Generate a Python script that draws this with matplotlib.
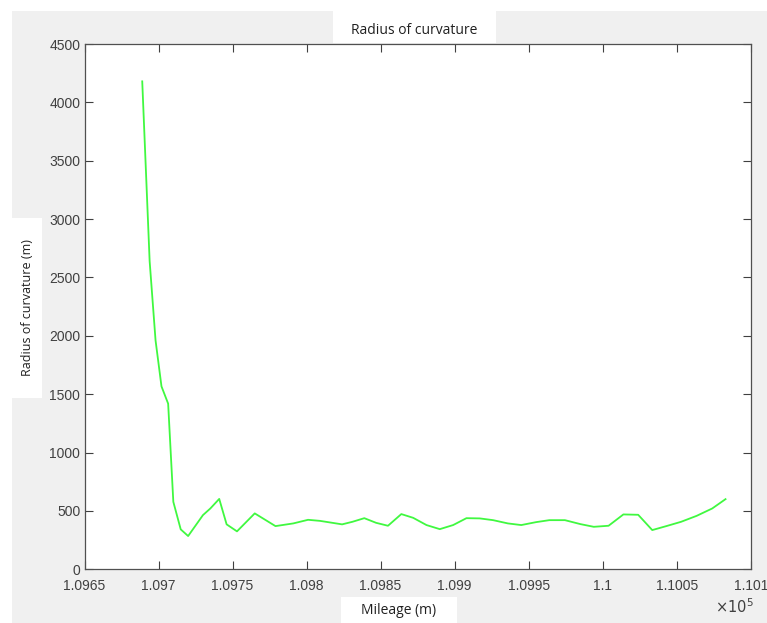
import matplotlib
matplotlib.use("Agg")
import matplotlib.pyplot as plt
from matplotlib.patches import Rectangle

# --- Daten ---
mileage = [109689, 109694, 109698, 109702, 109706.5, 109710, 109715, 109720,
           109730, 109735, 109741, 109746, 109753, 109765, 109779, 109791,
           109801, 109809, 109824, 109831, 109839, 109847, 109855, 109864,
           109872, 109881, 109890, 109899, 109908, 109917, 109926, 109936,
           109945, 109955, 109964, 109974.5, 109985, 109994, 110004, 110014,
           110024, 110033.5, 110043, 110053, 110063.5, 110074, 110083]
radius = [4180, 2640, 1960, 1567, 1419, 578, 342, 285,
          464, 521, 603, 385, 325, 479, 370, 393,
          424, 415, 385, 407, 438, 398, 373, 473,
          441, 379, 344, 379, 438, 436, 421, 393,
          379, 404, 421, 421, 387, 364, 373, 470,
          467, 336, 370, 407, 458, 521, 601]

x_ticks = [1.0965, 1.097, 1.0975, 1.098, 1.0985, 1.099, 1.0995, 1.1, 1.1005, 1.101]
y_ticks = [0, 500, 1000, 1500, 2000, 2500, 3000, 3500, 4000, 4500]

W, H = 767, 623
fig = plt.figure(figsize=(W / 100, H / 100), dpi=100, facecolor="white")

def px_rect(x0, y0, x1, y1, color):
    # Rechteck in Pixelkoordinaten (y von oben)
    fig.patches.append(Rectangle((x0 / W, 1 - y1 / H), (x1 - x0) / W, (y1 - y0) / H,
                                 transform=fig.transFigure, facecolor=color,
                                 edgecolor="none", zorder=-5))

px_rect(12, 11, W, H, "#f0f0f0")
px_rect(333, 11, 496, 43, "white")
px_rect(341, 597, 457, H, "white")
px_rect(12, 218, 42, 398, "white")

ax = fig.add_axes([84.5 / W, 1 - 569.3 / H, (750.7 - 84.5) / W, (569.3 - 44) / H])
ax.set_zorder(2)
ax.set_facecolor("white")
ax.plot([m / 1e5 for m in mileage], radius, color="#40f840", lw=1.3)

ax.set_xlim(1.0965, 1.101)
ax.set_ylim(0, 4500)
ax.set_xticks(x_ticks)
ax.set_xticklabels([f"{v:g}" for v in x_ticks])
ax.set_yticks(y_ticks)
ax.tick_params(direction="in", length=6, width=0.8, color="#404040",
               labelsize=10, labelcolor="#404040", top=True, right=True,
               labelfontfamily="Liberation Sans")
ax.tick_params(axis="x", pad=7)
ax.tick_params(axis="y", pad=3)
for s in ax.spines.values():
    s.set_color("#505050")
    s.set_linewidth(0.9)

fig.text(414 / W, 1 - 30 / H, "Radius of curvature", ha="center", va="center",
         fontsize=10, color="#202020", family="Open Sans")
fig.text(399 / W, 1 - 610 / H, "Mileage (m)", ha="center", va="center",
         fontsize=10, color="#202020", family="Open Sans")
fig.text(28 / W, 1 - 308 / H, "Radius of curvature (m)", ha="center", va="center",
         rotation=90, fontsize=9, color="#202020", family="Open Sans")
fig.text(734 / W, 1 - 607 / H, r"$\times10^5$", ha="center", va="center",
         fontsize=10.5, color="#404040", family="Liberation Sans")

fig.savefig("out.png", dpi=100, facecolor="white")
